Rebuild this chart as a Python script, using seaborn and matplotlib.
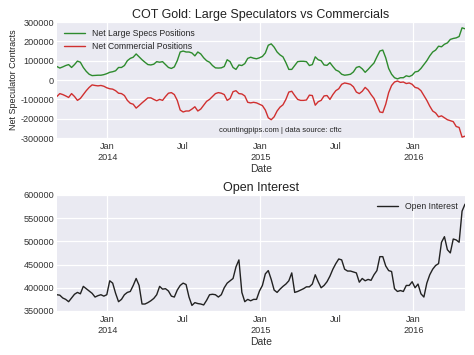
import numpy as np
import pandas as pd
import matplotlib
matplotlib.use("Agg")
import matplotlib.pyplot as plt
import matplotlib.dates as mdates
import seaborn as sns

start_date = "2013-09-03"
n_weeks = 140

large_specs = [70000, 62000, 68000, 75000, 80000, 65000, 80000, 98000, 92000, 65000,
               45000, 30000, 23000, 24000, 25000, 25000, 28000, 33000, 40000, 43000,
               48000, 65000, 65000, 75000, 100000, 112000, 118000, 135000, 120000, 105000,
               92000, 80000, 78000, 82000, 95000, 92000, 95000, 80000, 65000, 60000,
               68000, 100000, 145000, 150000, 145000, 145000, 140000, 125000, 145000, 135000,
               115000, 100000, 92000, 75000, 63000, 62000, 63000, 70000, 105000, 95000,
               65000, 55000, 78000, 75000, 85000, 112000, 118000, 113000, 110000, 115000,
               122000, 140000, 180000, 187000, 170000, 145000, 130000, 120000, 90000, 55000,
               55000, 75000, 95000, 97000, 97000, 95000, 75000, 80000, 120000, 105000,
               100000, 78000, 76000, 90000, 70000, 52000, 45000, 30000, 25000, 27000,
               30000, 42000, 65000, 70000, 58000, 40000, 55000, 72000, 88000, 120000,
               150000, 155000, 115000, 60000, 30000, 12000, 6000, 12000, 12000, 22000,
               18000, 25000, 42000, 45000, 60000, 80000, 100000, 125000, 145000, 155000,
               175000, 172000, 185000, 192000, 210000, 215000, 218000, 225000, 270000, 265000]

commercials = [-85000, -70000, -75000, -82000, -90000, -70000, -85000, -105000, -95000, -75000,
               -55000, -38000, -25000, -28000, -30000, -28000, -32000, -40000, -45000, -47000,
               -55000, -68000, -70000, -80000, -105000, -120000, -125000, -145000, -132000, -118000,
               -105000, -92000, -92000, -100000, -107000, -100000, -105000, -85000, -68000, -65000,
               -75000, -105000, -155000, -165000, -160000, -160000, -150000, -138000, -160000, -150000,
               -130000, -110000, -100000, -85000, -70000, -65000, -68000, -75000, -105000, -95000,
               -60000, -55000, -70000, -72000, -82000, -115000, -118000, -115000, -118000, -125000,
               -132000, -155000, -195000, -205000, -190000, -160000, -140000, -128000, -100000, -62000,
               -58000, -80000, -100000, -105000, -105000, -103000, -78000, -80000, -130000, -112000,
               -105000, -82000, -80000, -100000, -75000, -55000, -45000, -22000, -15000, -18000,
               -22000, -35000, -62000, -70000, -58000, -38000, -52000, -75000, -95000, -130000,
               -165000, -168000, -125000, -65000, -28000, -10000, -5000, -12000, -10000, -18000,
               -15000, -22000, -38000, -42000, -55000, -80000, -105000, -135000, -160000, -170000,
               -190000, -185000, -195000, -205000, -210000, -215000, -240000, -245000, -295000, -290000]

open_interest = [385000, 384000, 378000, 375000, 370000, 378000, 386000, 390000, 387000, 403000,
                 398000, 393000, 388000, 380000, 383000, 385000, 382000, 385000, 415000, 410000,
                 388000, 370000, 375000, 385000, 390000, 392000, 405000, 420000, 405000, 365000,
                 365000, 368000, 372000, 377000, 385000, 403000, 397000, 398000, 393000, 382000,
                 380000, 395000, 405000, 410000, 407000, 380000, 362000, 368000, 366000, 365000,
                 363000, 373000, 385000, 386000, 385000, 380000, 385000, 400000, 410000, 415000,
                 420000, 445000, 460000, 390000, 370000, 375000, 372000, 375000, 375000, 393000,
                 405000, 430000, 437000, 418000, 395000, 390000, 397000, 403000, 408000, 415000,
                 432000, 390000, 392000, 395000, 398000, 402000, 402000, 408000, 428000, 413000,
                 400000, 405000, 413000, 425000, 440000, 452000, 462000, 460000, 440000, 436000,
                 436000, 434000, 432000, 412000, 420000, 415000, 418000, 416000, 428000, 437000,
                 467000, 467000, 447000, 437000, 435000, 398000, 392000, 394000, 392000, 405000,
                 405000, 413000, 400000, 408000, 387000, 380000, 410000, 428000, 440000, 448000,
                 452000, 498000, 510000, 482000, 475000, 505000, 503000, 498000, 565000, 580000]

major_ticks = ["2014-01-01", "2015-01-01", "2016-01-01"]
major_labels = ["Jan\n2014", "Jan\n2015", "Jan\n2016"]
minor_ticks = ["2014-07-01", "2015-07-01"]
minor_labels = ["Jul", "Jul"]
top_yticks = [-300000, -200000, -100000, 0, 100000, 200000, 300000]
bottom_yticks = [350000, 400000, 450000, 500000, 550000, 600000]

dates = pd.date_range(start_date, periods=n_weeks, freq="7D")
df = pd.DataFrame({"Date": dates, "Large": large_specs, "Comm": commercials, "OI": open_interest})

sns.set_style("darkgrid", {"axes.facecolor": "#EAEAF2", "grid.color": "white"})
plt.rcParams["font.family"] = ["Liberation Sans", "DejaVu Sans"]

fig = plt.figure(figsize=(4.74, 3.55), dpi=100)
ax1 = fig.add_axes([0.120, 0.611, 0.861, 0.327])
ax2 = fig.add_axes([0.120, 0.124, 0.861, 0.327])

sns.lineplot(data=df, x="Date", y="Large", ax=ax1, color="#2e8b2e", lw=1.0,
             label="Net Large Specs Positions")
sns.lineplot(data=df, x="Date", y="Comm", ax=ax1, color="#d03030", lw=1.0,
             label="Net Commercial Positions")
sns.lineplot(data=df, x="Date", y="OI", ax=ax2, color="#222222", lw=1.0,
             label="Open Interest")

fs = 6.6
for ax, yt in ((ax1, top_yticks), (ax2, bottom_yticks)):
    ax.set_xlim(dates[0], dates[-1])
    ax.set_xticks(pd.to_datetime(major_ticks))
    ax.set_xticklabels(major_labels, fontsize=fs, color="#333333")
    ax.set_xticks(pd.to_datetime(minor_ticks), minor=True)
    ax.set_xticklabels(minor_labels, minor=True, fontsize=fs, color="#333333")
    ax.tick_params(axis="x", which="both", length=0, pad=3)
    ax.grid(True, which="major", color="white", lw=0.9)
    ax.grid(False, which="minor")
    ax.set_yticks(yt)
    ax.set_yticklabels([str(v) for v in yt], fontsize=fs, color="#333333")
    ax.tick_params(axis="y", length=0, pad=2)
    ax.set_ylim(yt[0], yt[-1])
    ax.set_xlabel("Date", fontsize=7.5, color="#333333", labelpad=2)
    for s in ax.spines.values():
        s.set_visible(False)

ax1.set_ylabel("Net Speculator Contracts", fontsize=6.5, color="#222222", labelpad=2)
ax2.set_ylabel("")
ax1.set_title("COT Gold: Large Speculators vs Commercials", fontsize=9.0, color="#222222", pad=3)
ax2.set_title("Open Interest", fontsize=9.0, color="#222222", pad=3)

ax1.legend(loc="upper left", frameon=False, fontsize=6.2, handlelength=2.5,
           borderaxespad=0.4, labelspacing=0.45)
ax2.legend(loc="upper right", frameon=False, fontsize=6.2, handlelength=2.5,
           borderaxespad=0.4)

ax1.text(0.547, 0.035, "countingpips.com | data source: cftc", transform=ax1.transAxes,
         ha="center", va="bottom", fontsize=5.5, color="#222222")

fig.savefig("out.png", dpi=100)
